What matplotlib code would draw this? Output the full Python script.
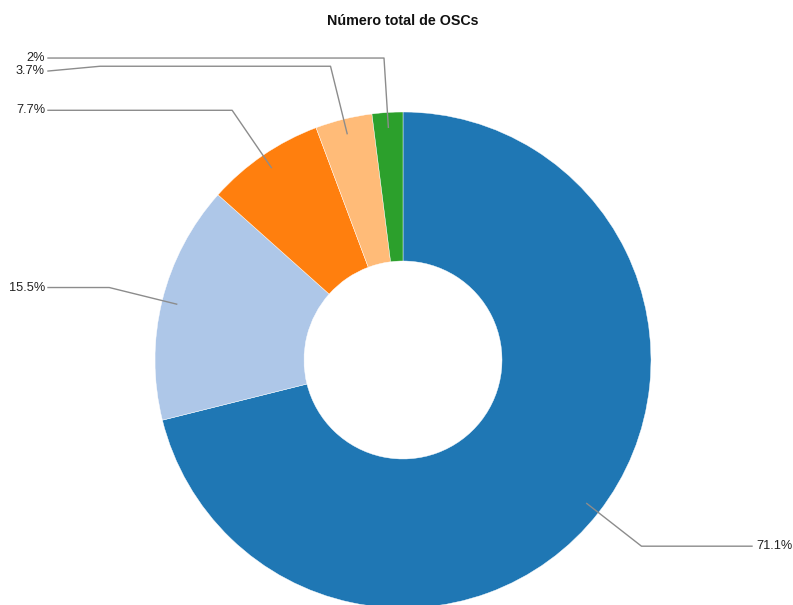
import numpy as np
import matplotlib
matplotlib.use("Agg")
import matplotlib.pyplot as plt

title = "Número total de OSCs"
values = [71.1, 15.5, 7.7, 3.7, 2.0]
labels = ["71.1%", "15.5%", "7.7%", "3.7%", "2%"]
colors = ["#1f77b4", "#aec7e8", "#ff7f0e", "#ffbb78", "#2ca02c"]

W, H = 793, 605
plt.rcParams["font.family"] = ["Liberation Sans", "DejaVu Sans"]
fig = plt.figure(figsize=(W / 100, H / 100), dpi=100)
ax = fig.add_axes([0, 0, 1, 1])

cx, cy = 403, H - 360
R = 248
r_in = 99

ax.pie(values, colors=colors, startangle=90, counterclock=False,
       center=(cx, cy), radius=R, frame=True,
       wedgeprops=dict(width=R - r_in, edgecolor="white", linewidth=0.3))
ax.set_xlim(0, W)
ax.set_ylim(0, H)
ax.axis("off")

ax.text(cx, H - 21, title, ha="center", va="center", fontsize=10.3,
        fontweight="bold", color="#111111")

line_col = "#8c8c8c"
total = sum(values)
angle = 90.0
items = []
for v, lab in zip(values, labels):
    span = 360.0 * v / total
    mid = np.deg2rad(angle - span / 2)
    angle -= span
    sx, sy = cx + 0.94 * R * np.cos(mid), cy + 0.94 * R * np.sin(mid)
    ex, ey = cx + 1.22 * R * np.cos(mid), cy + 1.22 * R * np.sin(mid)
    items.append((lab, sx, sy, ex, ey, np.cos(mid) >= 0))

# left-side labels: avoid overlap, top to bottom
left = sorted([it for it in items if not it[5]], key=lambda t: -t[4])
prev = None
for lab, sx, sy, ex, ey, _ in left:
    ly = ey
    if prev is not None and prev - ly < 13:
        ly = prev - 13
    prev = ly
    ax.plot([sx, ex, 100, 48], [sy, ey, ey, ly], color=line_col, lw=1)
    ax.text(45, ly, lab, ha="right", va="center", fontsize=9.2, color="#222222")

for lab, sx, sy, ex, ey, right in items:
    if right:
        ax.plot([sx, ex, 752], [sy, ey, ey], color=line_col, lw=1)
        ax.text(756, ey, lab, ha="left", va="center", fontsize=9.2, color="#222222")

fig.savefig("out.png", dpi=100, facecolor="white")
